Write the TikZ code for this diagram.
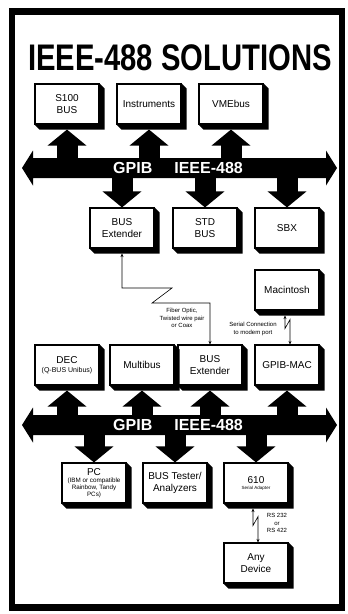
\documentclass[tikz,border=0pt]{standalone}
\usepackage{fontspec}
\setmainfont{Liberation Sans}
\newfontfamily\titlefont[FakeStretch=0.79]{Liberation Sans}
\usetikzlibrary{arrows.meta}
\newcommand\boxbig{\fontsize{10}{11.5}\selectfont}
\tikzset{
  box/.style={draw, fill=white, line width=1.1pt, minimum width=64pt, minimum height=40pt, inner sep=1pt, align=center, font=\boxbig},
  note/.style={inner sep=0pt, align=center, font=\fontsize{6}{7.5}\selectfont},
  buslabel/.style={anchor=base, inner sep=0pt, text=white, font=\bfseries\fontsize{16}{16}\selectfont},
  fat/.style={line width=21pt, -{Triangle[length=16pt,width=38pt]}},
  link/.style={line width=0.6pt, {Stealth[length=3.5pt,width=3pt]}-{Stealth[length=3.5pt,width=3pt]}},
}
\begin{document}
\begin{tikzpicture}[x=1pt, y=-1pt]
\useasboundingbox (0,0) rectangle (348,614);
\fill[white] (0,0) rectangle (348,614);
\draw[line width=6.5pt] (12,11.5) rectangle (342,607.5);
\node[anchor=base, inner sep=0pt, font=\titlefont\bfseries\fontsize{37}{40}\selectfont] (title) at (180,70) {IEEE-488 SOLUTIONS};

\foreach \n/\x/\y/\t in {s100/67/104/{S100\\BUS}, instr/149/104/Instruments, vme/231/104/VMEbus,
  ext1/122/228/{BUS\\Extender}, std/205/228/{STD\\BUS}, sbx/287/228/SBX, mac/287/290/Macintosh,
  multi/142/365/Multibus, ext2/210/365/{BUS\\Extender}, gmac/287/365/GPIB-MAC,
  tester/175/483/{BUS Tester/\\Analyzers}, any/256/563/{Any\\Device}}
  \node[box] (\n) at (\x,\y) {\t};
\node[box, font=\fontsize{7}{8.5}\selectfont] (dec) at (67,365) {{\boxbig DEC}\\(Q-BUS Unibus)};
\node[box, font=\fontsize{6.3}{7.2}\selectfont] (pc) at (94,483) {{\boxbig PC}\\(IBM or compatible\\Rainbow, Tandy\\PCs)};
\node[box, font=\fontsize{4.5}{6}\selectfont] (adapt) at (256,483) {{\boxbig 610}\\Serial Adapter};

\foreach \n in {s100,instr,vme,ext1,std,sbx,mac,dec,multi,ext2,gmac,pc,tester,adapt,any}
  \fill (\n.south west) -- ++(5,5) -| ([shift={(5,5)}]\n.north east) -- (\n.north east) -- (\n.south east) -- cycle;

\foreach \b/\y in {bus1/168, bus2/425}{
  \coordinate (\b) at (179.5,\y);
  \fill (22,\y) -- ++(11,-17.5) -- ++(0,7.5) -- ++(293,0) -- ++(0,-7.5) -- (337,\y) -- ++(-11,17.5) -- ++(0,-7.5) -- ++(-293,0) -- ++(0,7.5) -- cycle;
}
\foreach \n in {s100,instr,vme} \draw[fat] (\n.south |- bus1) -- ([shift={(0,5)}]\n.south);
\foreach \n in {ext1,std,sbx} \draw[fat] (\n.north |- bus1) -- (\n.north);
\foreach \n in {dec,multi,ext2,gmac} \draw[fat] (\n.south |- bus2) -- ([shift={(0,5)}]\n.south);
\foreach \n in {pc,tester,adapt} \draw[fat] (\n.north |- bus2) -- (\n.north);
\foreach \b/\y in {bus1/168, bus2/425}
  \node[buslabel] (lbl\b) at (178,\y+5.5) {GPIB\hspace{22pt}IEEE-488};

\draw[link] ([shift={(0,5)}]ext1.south) |- (172,288) -- (152,303) -| (ext2.north);
\draw[link] ([shift={(-2,5)}]mac.south) -- ++(0,13) -- ++(5,-9) -- ([xshift=3pt]gmac.north);
\draw[link] ([shift={(-3,5)}]adapt.south) -- ++(0,17) -- ++(5,-9) -- ([xshift=2pt]any.north);
\node[note] (fiber) at (182,318) {Fiber Optic,\\Twisted wire pair\\or Coax};
\node[note] (serial) at (253,329) {Serial Connection\\to modem port};
\node[note] (rs) at (277,523) {RS 232\\or\\RS 422};
\end{tikzpicture}
\end{document}
